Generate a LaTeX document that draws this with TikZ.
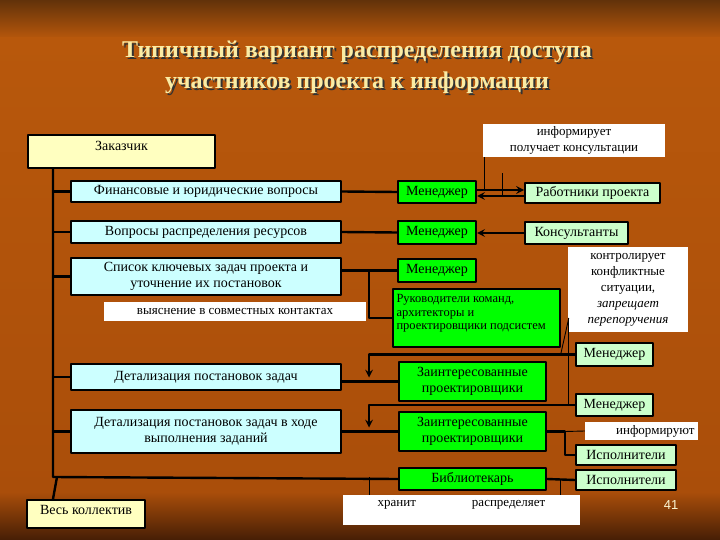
\documentclass[tikz,border=0pt]{standalone}
\usepackage{fontspec}
\setmainfont{Liberation Serif}
\newfontfamily\numfont{Liberation Sans}

\definecolor{bgdark}{RGB}{98,50,10}
\definecolor{bgmid}{RGB}{184,88,12}
\definecolor{bgmidlow}{RGB}{170,78,10}
\definecolor{bglow}{RGB}{70,30,5}
\definecolor{titlecream}{RGB}{250,236,165}
\definecolor{taskblue}{RGB}{204,255,255}
\definecolor{rolegreen}{RGB}{0,255,0}
\definecolor{palegreen}{RGB}{204,255,204}
\definecolor{clientyellow}{RGB}{255,255,192}

\tikzset{
	box/.style={draw=black, line width=2pt, inner sep=1pt, align=center, font=\fontsize{14}{16}\selectfont},
	taskbox/.style={box, fill=taskblue, minimum width=270pt},
	rolebox/.style={box, fill=rolegreen},
	peerbox/.style={box, fill=palegreen},
	clientbox/.style={box, fill=clientyellow},
	note/.style={fill=white, inner sep=1pt, align=center, font=\fontsize{13}{16}\selectfont},
	link/.style={line width=2.4pt},
	pointer/.style={line width=0.9pt},
	headline/.style={font=\bfseries\fontsize{24}{31}\selectfont, align=center},
}

\begin{document}
\begin{tikzpicture}[x=1pt, y=-1pt, line join=round, >=stealth]
	\useasboundingbox (0,0) rectangle (720,540);
	% background
	\shade[top color=bgdark, bottom color=bgmid] (0,0) rectangle (720,39);
	\shade[top color=bgmid, bottom color=bgmidlow] (0,38) rectangle (720,493);
	\shade[top color=bgmidlow, bottom color=bglow] (0,492) rectangle (720,540);

	\node[headline, text=black!80] (titleshade) at (359,69.5) {Типичный вариант распределения доступа\\участников проекта к информации};
	\node[headline, text=titlecream] (title) at (357,67.5) {Типичный вариант распределения доступа\\участников проекта к информации};

	% left column
	\node[clientbox, minimum width=187pt, minimum height=33pt, label={[anchor=north, yshift=-4pt, font=\fontsize{14}{16}\selectfont]north:Заказчик}] (zak) at (121.5,151.5) {};
	\node[taskbox, minimum height=21pt] (fin) at (206,191.5) {Финансовые и юридические вопросы};
	\node[taskbox, minimum height=22pt] (res) at (206,232) {Вопросы распределения ресурсов};
	\node[taskbox, minimum height=37pt] (spis) at (206,276.5) {Список ключевых задач проекта и\\уточнение их постановок};
	\node[note, minimum width=262pt, minimum height=19pt] (vyyas) at (235,311.5) {выяснение в совместных контактах};
	\node[taskbox, minimum height=26pt] (det1) at (206,377) {Детализация постановок задач};
	\node[taskbox, minimum height=43pt] (det2) at (206,431.5) {Детализация постановок задач в ходе\\выполнения заданий};
	\node[clientbox, minimum width=118pt, minimum height=28pt, label={[anchor=north, yshift=-3pt, font=\fontsize{14}{16}\selectfont]north:Весь коллектив}] (vesk) at (86,514) {};
	\coordinate (spine) at (53,477);

	% middle column
	\node[rolebox, minimum width=78pt, minimum height=22pt] (m1) at (437,192) {Менеджер};
	\node[rolebox, minimum width=78pt, minimum height=23pt] (m2) at (437,232.5) {Менеджер};
	\node[rolebox, minimum width=78pt, minimum height=23pt] (m3) at (437,270.5) {Менеджер};
	\node[rolebox, minimum width=167pt, minimum height=58pt, label={[anchor=north west, xshift=1pt, yshift=-3pt, align=left, font=\fontsize{12.5}{13.5}\selectfont]north west:{Руководители команд,\\архитекторы и\\проектировщики подсистем}}] (ruk) at (476.5,318) {};
	\node[rolebox, minimum width=147pt, minimum height=39pt] (zp1) at (472.5,381.5) {Заинтересованные\\проектировщики};
	\node[rolebox, minimum width=147pt, minimum height=39pt] (zp2) at (472.5,431.5) {Заинтересованные\\проектировщики};
	\node[rolebox, minimum width=147pt, minimum height=22pt] (bib) at (472.5,479) {Библиотекарь};

	% right column
	\node[peerbox, minimum width=135pt, minimum height=20pt] (rab) at (592.5,193) {Работники проекта};
	\node[peerbox, minimum width=103pt, minimum height=22pt] (kons) at (576.5,233) {Консультанты};
	\node[peerbox, minimum width=77pt, minimum height=23pt] (rm1) at (614.5,354.5) {Менеджер};
	\node[peerbox, minimum width=77pt, minimum height=22pt] (rm2) at (614.5,405) {Менеджер};
	\node[peerbox, minimum width=100pt, minimum height=20pt] (isp1) at (626,455) {Исполнители};
	\node[peerbox, minimum width=100pt, minimum height=20pt] (isp2) at (626,480) {Исполнители};

	% notes
	\node[note, minimum width=182pt, minimum height=33pt] (inf) at (574,140.5) {информирует\\получает консультации};
	\node[note, minimum width=120pt, minimum height=85pt] (kontr) at (628,289.5) {контролирует\\конфликтные\\ситуации,\\\textit{запрещает}\\\textit{перепоручения}};
	\node[note, minimum width=113pt, minimum height=18pt, text width=106pt, align=right] (infr) at (641.5,431) {информируют};
	\node[note, minimum width=237pt, minimum height=30pt, label={[anchor=north, yshift=-2pt, font=\fontsize{13}{16}\selectfont]north:хранит\hspace{56pt}распределяет}] (hran) at (461.5,510) {};
	\node[font=\numfont\fontsize{13}{15}\selectfont, text=titlecream!50!white] (pagenum) at (671,505) {41};

	% connectors
	\foreach \task in {fin,res,spis,det1,det2}
		\draw[link] (spine |- \task.west) -- (\task.west);
	\draw[link] (spine |- zak.south) -- (spine) -- (bib.west);
	\draw[link] ([xshift=4pt]spine) -- ([xshift=27pt]vesk.north west);

	\draw[link] (fin.east) -- (m1.west);
	\draw[link] (res.east) -- (m2.west);
	\draw[link] (spis.east |- m3.west) -- (m3.west);
	\coordinate (fork) at ([xshift=27pt]spis.east |- m3.west);
	\draw[link] (fork) |- (ruk.west);
	\draw[link] (det1.east |- zp1.west) -- (zp1.west);
	\draw[link] (det2.east |- zp2.west) -- (zp2.west);
	\draw[link,->] (rm1.west) -| ([yshift=4pt]fork |- zp1.west);
	\draw[link,->] (rm2.west) -| ([yshift=4pt]fork |- zp2.west);

	\draw[link,->] ([yshift=2pt]m1.east) -- ([yshift=2pt]m1.east -| rab.west);
	\draw[link,->] ([yshift=-4pt]m1.east -| rab.west) -- ([yshift=-4pt]m1.east);
	\draw[link,->] (kons.west) -- (kons.west -| m2.east);

	\coordinate (split) at ([xshift=18pt]zp2.east);
	\draw[link] (zp2.east) -- (split) |- (isp1.west);
	\draw[link] (bib.east) -- (isp2.west);

	% callout pointers
	\draw[pointer] ([xshift=2pt]inf.south west) -- ([xshift=2pt,yshift=2pt]inf.south west |- m1.east);
	\coordinate (relay) at ([xshift=20pt,yshift=-16pt]inf.south west);
	\draw[pointer] (relay) -- ([yshift=-5pt]relay |- m1.east);
	\coordinate (watch) at ([xshift=1pt,yshift=-28.5pt]kontr.west);
	\draw[pointer] (watch) -- (watch |- rm2.west);
	\draw[pointer] (watch) -- ([yshift=-5pt]ruk.south east);
	\draw[pointer] (split) -- (infr.west);
	\draw[pointer] (fork |- hran.north) -- (fork |- spine);
	\draw[pointer] ([xshift=-20pt]hran.north east) -- ([xshift=-20pt]hran.north east |- bib.east);
\end{tikzpicture}
\end{document}
